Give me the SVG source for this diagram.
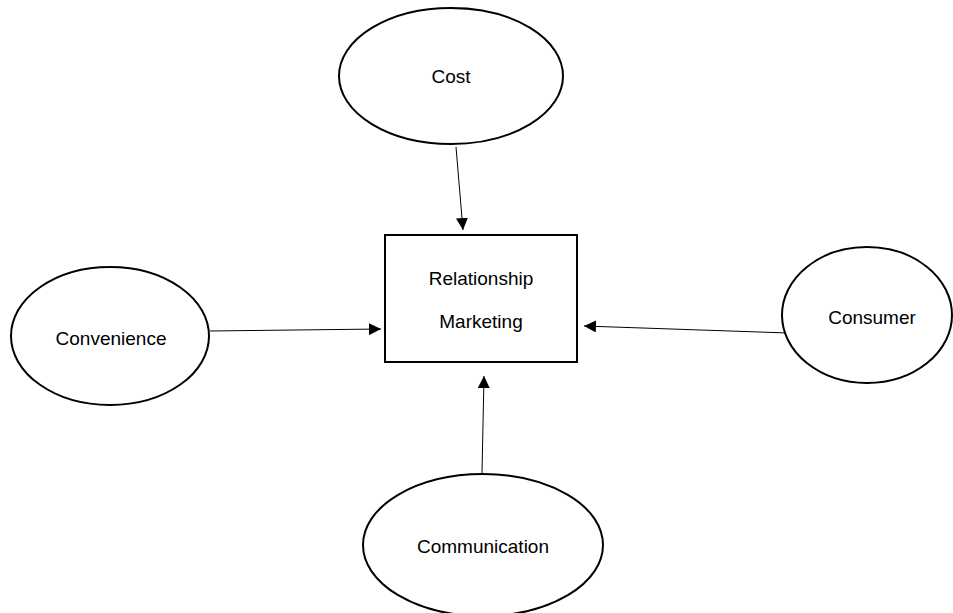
<svg xmlns="http://www.w3.org/2000/svg" width="953" height="613" viewBox="0 0 953 613">
  <style>
    .shape { fill: #fff; stroke: #000; stroke-width: 2; }
    .link { stroke: #000; stroke-width: 1; fill: none; marker-end: url(#arrow); }
    .label { font-family: "Liberation Sans", Arial, sans-serif; font-size: 19px; fill: #000; text-anchor: middle; dominant-baseline: central; }
  </style>
  <defs>
    <marker id="arrow" viewBox="0 0 10 10" refX="10" refY="5" markerWidth="12" markerHeight="12" markerUnits="userSpaceOnUse" orient="auto">
      <path d="M0,0 L10,5 L0,10 Z" fill="#000"/>
    </marker>
  </defs>
  <rect width="953" height="613" fill="#fff"/>

  <g id="connectors">
    <line class="link" x1="456" y1="147" x2="463" y2="230"/>
    <line class="link" x1="210" y1="331" x2="381" y2="329"/>
    <line class="link" x1="788" y1="333" x2="584" y2="326"/>
    <line class="link" x1="482" y1="473" x2="484" y2="376"/>
  </g>

  <g id="cost">
    <ellipse class="shape" cx="451" cy="76" rx="112" ry="68"/>
    <text class="label" x="451" y="76">Cost</text>
  </g>

  <g id="relationship-marketing">
    <rect class="shape" x="385" y="235" width="192" height="127"/>
    <text class="label" x="481" y="278">Relationship</text>
    <text class="label" x="481" y="321">Marketing</text>
  </g>

  <g id="convenience">
    <ellipse class="shape" cx="110" cy="336" rx="99" ry="69"/>
    <text class="label" x="111" y="338">Convenience</text>
  </g>

  <g id="consumer">
    <ellipse class="shape" cx="867" cy="315" rx="85" ry="68"/>
    <text class="label" x="872" y="317">Consumer</text>
  </g>

  <g id="communication">
    <ellipse class="shape" cx="483" cy="545" rx="120" ry="71"/>
    <text class="label" x="483" y="546">Communication</text>
  </g>
</svg>
